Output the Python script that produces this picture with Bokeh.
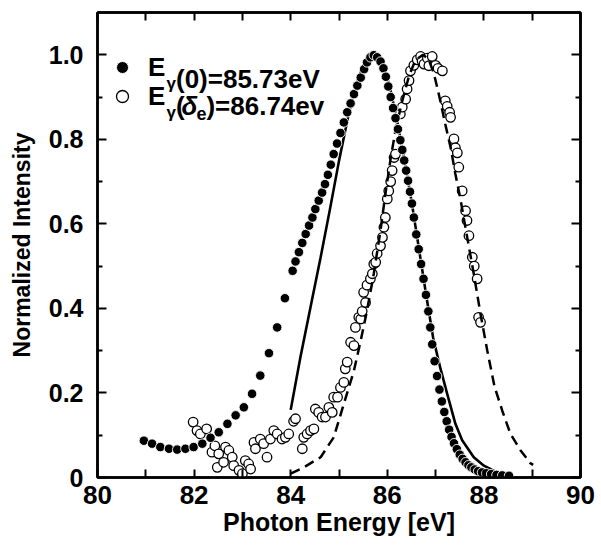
from bokeh.plotting import figure
from bokeh.models import (Range1d, LinearAxis, FixedTicker, Legend, LegendItem,
                          Label, ColumnDataSource, CustomJSTickFormatter)
from bokeh.embed import file_html
from bokeh.resources import INLINE

# ---------------- data ----------------
filled_e = [80.96, 81.13, 81.30, 81.48, 81.65, 81.82, 81.99, 82.17, 82.34, 82.51,
            82.69, 82.86, 83.03, 83.20, 83.37, 83.55, 83.72, 83.88, 84.04, 84.10,
            84.17, 84.24, 84.31, 84.38, 84.45, 84.51, 84.58, 84.65, 84.71, 84.77,
            84.83, 84.89, 84.96, 85.03, 85.10, 85.17, 85.24, 85.31, 85.38, 85.45,
            85.52, 85.58, 85.65, 85.72, 85.79, 85.86, 85.92, 85.97, 86.02, 86.07,
            86.12, 86.17, 86.22, 86.27, 86.31, 86.35, 86.39, 86.43, 86.47, 86.51,
            86.55, 86.60, 86.65, 86.70, 86.75, 86.80, 86.85, 86.89, 86.93, 86.98,
            87.03, 87.08, 87.13, 87.18, 87.23, 87.28, 87.33, 87.38, 87.44, 87.50,
            87.56, 87.62, 87.68, 87.74, 87.81, 87.88, 87.96, 88.05, 88.15, 88.26,
            88.38, 88.52]
filled_i = [0.087, 0.080, 0.072, 0.068, 0.066, 0.068, 0.072, 0.080, 0.094, 0.107,
            0.127, 0.147, 0.166, 0.198, 0.241, 0.294, 0.355, 0.424, 0.489, 0.511,
            0.533, 0.555, 0.576, 0.596, 0.615, 0.635, 0.655, 0.674, 0.694, 0.716,
            0.740, 0.765, 0.790, 0.815, 0.840, 0.864, 0.885, 0.907, 0.927, 0.946,
            0.966, 0.982, 0.994, 0.999, 0.994, 0.984, 0.968, 0.948, 0.925, 0.900,
            0.874, 0.850, 0.824, 0.798, 0.775, 0.750, 0.726, 0.702, 0.676, 0.648,
            0.615, 0.575, 0.540, 0.505, 0.470, 0.432, 0.393, 0.355, 0.315, 0.275,
            0.240, 0.208, 0.180, 0.155, 0.133, 0.113, 0.096, 0.081, 0.067, 0.054,
            0.044, 0.036, 0.029, 0.024, 0.019, 0.015, 0.012, 0.010, 0.008, 0.006,
            0.005, 0.004]

open_e = [81.98, 82.06, 82.13, 82.26, 82.37, 82.43, 82.48, 82.51, 82.61, 82.65,
          82.72, 82.79, 82.82, 82.93, 83.00, 83.06, 83.13, 83.17, 83.24, 83.27,
          83.37, 83.44, 83.51, 83.58, 83.65, 83.72, 83.82, 83.89, 83.96, 84.06,
          84.10, 84.24, 84.27, 84.34, 84.41, 84.48, 84.51, 84.58, 84.65, 84.72,
          84.79, 84.86, 84.89, 84.97, 85.03, 85.10, 85.13, 85.17, 85.24, 85.31,
          85.34, 85.41, 85.45, 85.48, 85.51, 85.55, 85.58, 85.65, 85.69, 85.72,
          85.76, 85.79, 85.86, 85.90, 85.93, 85.96, 86.00, 86.03, 86.07, 86.10,
          86.14, 86.17, 86.27, 86.31, 86.38, 86.41, 86.45, 86.48, 86.55, 86.62,
          86.69, 86.72, 86.76, 86.83, 86.86, 86.93, 87.00, 87.05, 87.14, 87.20,
          87.24, 87.29, 87.31, 87.38, 87.41, 87.45, 87.48, 87.55, 87.62, 87.65,
          87.69, 87.76, 87.80, 87.86, 87.89, 87.93]
open_i = [0.131, 0.111, 0.103, 0.115, 0.060, 0.075, 0.024, 0.056, 0.036, 0.072,
          0.064, 0.048, 0.028, 0.017, 0.009, 0.040, 0.032, 0.020, 0.083, 0.068,
          0.091, 0.080, 0.048, 0.091, 0.111, 0.103, 0.091, 0.095, 0.103, 0.133,
          0.139, 0.068, 0.095, 0.103, 0.111, 0.115, 0.162, 0.154, 0.143, 0.143,
          0.166, 0.154, 0.190, 0.190, 0.213, 0.225, 0.257, 0.273, 0.320, 0.312,
          0.355, 0.379, 0.375, 0.393, 0.438, 0.414, 0.455, 0.470, 0.482, 0.505,
          0.509, 0.530, 0.548, 0.568, 0.592, 0.615, 0.659, 0.678, 0.700, 0.726,
          0.757, 0.765, 0.860, 0.876, 0.895, 0.919, 0.939, 0.962, 0.975, 0.988,
          0.996, 0.985, 0.978, 0.992, 0.974, 0.996, 0.975, 0.968, 0.962, 0.891,
          0.878, 0.864, 0.852, 0.801, 0.780, 0.768, 0.734, 0.678, 0.631, 0.608,
          0.572, 0.521, 0.500, 0.470, 0.379, 0.367]

fit0_e = [84.00, 84.20, 84.41, 84.62, 84.82, 85.00, 85.20, 85.40, 85.55, 85.73,
          85.90, 86.05, 86.20, 86.35, 86.50, 86.65, 86.80, 86.95, 87.10, 87.24,
          87.41, 87.55, 87.79, 88.00, 88.20, 88.40, 88.55]
fit0_i = [0.160, 0.284, 0.403, 0.521, 0.639, 0.749, 0.860, 0.945, 0.985, 1.000,
          0.980, 0.925, 0.845, 0.755, 0.655, 0.545, 0.435, 0.330, 0.258, 0.198,
          0.127, 0.088, 0.048, 0.028, 0.016, 0.008, 0.003]

fitd_e = [84.00, 84.27, 84.62, 84.89, 85.10, 85.31, 85.45, 85.58, 85.72, 85.86,
          85.96, 86.07, 86.17, 86.31, 86.45, 86.58, 86.74, 86.85, 86.96, 87.07,
          87.20, 87.31, 87.41, 87.52, 87.62, 87.79, 87.93, 88.07, 88.22, 88.38,
          88.55, 88.76, 88.96, 89.02]
fitd_i = [0.009, 0.024, 0.048, 0.095, 0.174, 0.253, 0.324, 0.395, 0.482, 0.585,
          0.670, 0.755, 0.822, 0.891, 0.950, 0.987, 1.000, 0.990, 0.958, 0.905,
          0.836, 0.781, 0.718, 0.655, 0.590, 0.482, 0.387, 0.300, 0.215, 0.158,
          0.103, 0.064, 0.034, 0.030]

x_ticks = [80, 82, 84, 86, 88, 90]
x_minor = [81, 83, 85, 87, 89]
x_labels = ["80", "82", "84", "86", "88", "90"]
y_ticks = [0, 0.2, 0.4, 0.6, 0.8, 1.0]
y_minor = [0.1, 0.3, 0.5, 0.7, 0.9]
y_labels = ["0", "0.2", "0.4", "0.6", "0.8", "1.0"]

x_title = "Photon Energy [eV]"
y_title = "Normalized Intensity"

# ---------------- styling ----------------
FONT = "'Liberation Sans', Arial, sans-serif"

p = figure(width=601, height=548,
           x_range=Range1d(80, 90), y_range=Range1d(0, 1.1),
           x_axis_type=None, y_axis_type=None,
           output_backend="svg", toolbar_location=None,
           min_border_left=97, min_border_right=21,
           min_border_top=12, min_border_bottom=71,
           background_fill_color="white", border_fill_color="white")
p.grid.visible = False
p.outline_line_color = "black"
p.outline_line_width = 2.5


def style_axis(ax, tick_len, minor_len, show_labels):
    ax.axis_line_width = 2.5
    ax.axis_line_color = "black"
    ax.major_tick_in = tick_len
    ax.major_tick_out = 0
    ax.minor_tick_in = minor_len
    ax.minor_tick_out = 0
    ax.major_tick_line_width = 2
    ax.minor_tick_line_width = 2
    ax.major_tick_line_color = "black"
    ax.minor_tick_line_color = "black"
    ax.major_label_text_color = "black"
    ax.axis_label_text_color = "black"
    if not show_labels:
        ax.formatter = CustomJSTickFormatter(code="return ''")
        ax.major_label_text_font_size = "1px"
        ax.major_label_standoff = 0


xb = LinearAxis(ticker=FixedTicker(ticks=x_ticks, minor_ticks=x_minor))
style_axis(xb, 8, 8, True)
xb.major_label_overrides = dict(zip(x_ticks, x_labels))
xb.major_label_text_font = FONT
xb.major_label_text_font_size = "26px"
xb.major_label_text_font_style = "bold"
xb.major_label_standoff = 8
xb.axis_label = x_title
xb.axis_label_text_font = FONT
xb.axis_label_text_font_size = "25px"
xb.axis_label_text_font_style = "bold"
xb.axis_label_standoff = 1
p.add_layout(xb, "below")

xt = LinearAxis(ticker=FixedTicker(ticks=x_ticks, minor_ticks=x_minor))
style_axis(xt, 8, 8, False)
p.add_layout(xt, "above")

yl = LinearAxis(ticker=FixedTicker(ticks=y_ticks, minor_ticks=y_minor))
style_axis(yl, 9, 5, True)
yl.major_label_overrides = dict(zip(y_ticks, y_labels))
yl.major_label_text_font = FONT
yl.major_label_text_font_size = "25px"
yl.major_label_text_font_style = "bold"
yl.major_label_standoff = 14
yl.axis_label = y_title
yl.axis_label_text_font = FONT
yl.axis_label_text_font_size = "23px"
yl.axis_label_text_font_style = "bold"
yl.axis_label_standoff = 11
p.add_layout(yl, "left")

yr = LinearAxis(ticker=FixedTicker(ticks=y_ticks, minor_ticks=y_minor))
style_axis(yr, 9, 5, False)
p.add_layout(yr, "right")

# ---------------- glyphs ----------------
src_f = ColumnDataSource(dict(x=filled_e, y=filled_i))
src_o = ColumnDataSource(dict(x=open_e, y=open_i))
src_0 = ColumnDataSource(dict(x=fit0_e, y=fit0_i))
src_d = ColumnDataSource(dict(x=fitd_e, y=fitd_i))

p.line("x", "y", source=src_0, line_color="black", line_width=2.6)
r_open = p.scatter("x", "y", source=src_o, marker="circle", size=9.5,
                   fill_color="white", line_color="black", line_width=1.3)
p.line("x", "y", source=src_d, line_color="black", line_width=2.5,
       line_dash="10 6")
r_fill = p.scatter("x", "y", source=src_f, marker="circle", size=9.5,
                   fill_color="black", line_color="white", line_width=0.9)


# ---------------- legend (one single-item legend per row) ----------------
def legend_row(renderer, loc_y):
    lg = Legend(items=[LegendItem(label="E", renderers=[renderer])],
                location=(10, loc_y), orientation="vertical",
                padding=0, spacing=0, margin=0,
                glyph_width=30, glyph_height=40, label_height=40,
                label_standoff=11,
                label_text_font=FONT, label_text_font_size="26px",
                label_text_font_style="bold", label_text_color="black",
                border_line_color=None, background_fill_alpha=0)
    p.add_layout(lg, "center")


legend_row(r_fill, 390)
legend_row(r_open, 361)


def lab(x, y, text, size, style="bold"):
    p.add_layout(Label(x=x, y=y, text=text, text_font=FONT,
                       text_font_size=size, text_font_style=style,
                       text_baseline="alphabetic", text_align="left",
                       text_color="black"))


# line 1: E_γ(0)=85.73eV
lab(81.429, 0.931, "γ", "17px")
lab(81.625, 0.9423, "(0)=85.73eV", "26px")
# line 2: E_γ(δ_e)=86.74ev
lab(81.429, 0.8635, "γ", "17px")
lab(81.625, 0.8793, "(", "26px")
lab(81.740, 0.8793, "δ", "26px", "bold italic")
lab(82.050, 0.8612, "e", "18px")
lab(82.255, 0.8793, ")=86.74ev", "26px")

open("out.html", "w").write(file_html(p, INLINE))
